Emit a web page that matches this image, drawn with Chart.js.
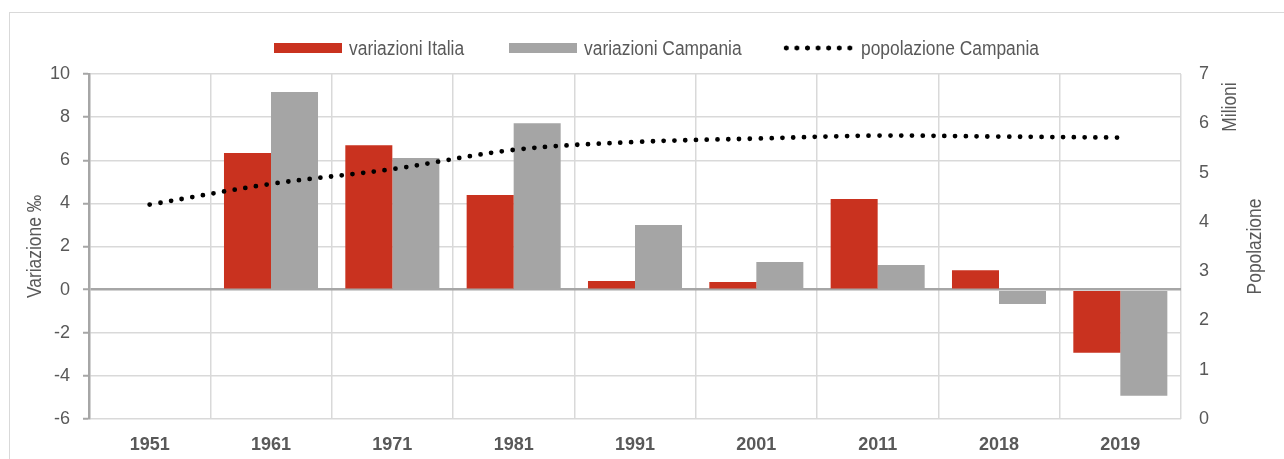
<!DOCTYPE html>
<html>
<head>
<meta charset="utf-8">
<script src="https://cdn.jsdelivr.net/npm/chart.js@4.4.1/dist/chart.umd.min.js"></script>
<style>
  html, body { margin: 0; padding: 0; background: #fff; overflow: hidden; }
  #wrap { position: relative; width: 1284px; height: 459px; }
  #frame { position: absolute; left: 9px; top: 12px; width: 1400px; height: 600px; border: 1px solid #D9D9D9; box-sizing: border-box; }
  canvas { position: absolute; left: 0; top: 0; }
  .lg { position: absolute; font-family: 'Liberation Sans', Arial, sans-serif; font-size: 20px; color: #595959; line-height: 20px; top: 38px; white-space: nowrap; transform: scaleX(0.87); transform-origin: 0 50%; }
  .sw { position: absolute; top: 43px; height: 10px; width: 68px; }
  .dots { position: absolute; top: 45px; height: 6px; width: 76px;
    background-image: radial-gradient(circle, #000 2.2px, rgba(0,0,0,0) 2.8px);
    background-size: 10.6px 6px; background-repeat: repeat-x; }
</style>
</head>
<body>
<div id="wrap">
  <div id="frame"></div>
  <canvas id="c" width="1284" height="459"></canvas>
  <div class="sw" style="left:274px;background:#C9321F"></div>
  <div class="lg" style="left:349px">variazioni Italia</div>
  <div class="sw" style="left:509px;background:#A5A5A5"></div>
  <div class="lg" style="left:584px">variazioni Campania</div>
  <div class="dots" style="left:781px"></div>
  <div class="lg" style="left:861px">popolazione Campania</div>
</div>
<script>
const categories = ['1951', '1961', '1971', '1981', '1991', '2001', '2011', '2018', '2019'];
const variazioniItalia = [null, 6.34, 6.7, 4.39, 0.4, 0.35, 4.2, 0.9, -2.93];
const variazioniCampania = [null, 9.16, 6.1, 7.72, 3.0, 1.28, 1.14, -0.67, -4.92];
const popolazioneCampania = [4.35, 4.77, 5.07, 5.46, 5.62, 5.69, 5.75, 5.73, 5.71];
const leftTitle = 'Variazione ‰';
const rightTitleTop = 'Milioni';
const rightTitle = 'Popolazione';

const FONT = "'Liberation Sans', Arial, sans-serif";
const TXT = '#595959';

const titlesPlugin = {
  id: 'titles',
  afterDraw(chart) {
    const ctx = chart.ctx;
    ctx.save();
    ctx.fillStyle = TXT;
    ctx.font = '20px ' + FONT;
    ctx.textAlign = 'center';
    ctx.textBaseline = 'middle';
    const draw = (t, x, y) => {
      ctx.save();
      ctx.translate(x, y);
      ctx.rotate(-Math.PI / 2);
      ctx.scale(0.87, 1);
      ctx.fillText(t, 0, 0);
      ctx.restore();
    };
    const mid = (chart.chartArea.top + chart.chartArea.bottom) / 2;
    draw(leftTitle, 35, mid);
    draw(rightTitleTop, 1230, 107);
    draw(rightTitle, 1255, mid);
    ctx.restore();
  }
};

new Chart(document.getElementById('c'), {
  data: {
    labels: categories,
    datasets: [
      {
        type: 'line', label: 'popolazione Campania', data: popolazioneCampania,
        yAxisID: 'y1', order: 0,
        borderColor: '#000', borderWidth: 4.8, borderDash: [0, 10.8], borderCapStyle: 'round',
        pointRadius: 0, tension: 0.35, fill: false
      },
      {
        type: 'bar', label: 'variazioni Italia', data: variazioniItalia,
        yAxisID: 'y', order: 1, backgroundColor: '#C9321F',
        categoryPercentage: 0.775, barPercentage: 1
      },
      {
        type: 'bar', label: 'variazioni Campania', data: variazioniCampania,
        yAxisID: 'y', order: 2, backgroundColor: '#A5A5A5',
        categoryPercentage: 0.775, barPercentage: 1
      }
    ]
  },
  options: {
    responsive: false,
    animation: false,
    layout: { padding: { top: 74, left: 0, right: 0, bottom: 0 } },
    plugins: { legend: { display: false }, tooltip: { enabled: false } },
    scales: {
      x: {
        offset: true,
        grid: { offset: true, color: '#D9D9D9', lineWidth: 1.5, drawTicks: false },
        border: { display: false },
        ticks: { color: TXT, font: { family: FONT, size: 18, weight: 'bold' }, padding: 15 },
        afterFit(s) { s.height = 40; }
      },
      y: {
        position: 'left', min: -6, max: 10,
        ticks: { stepSize: 2, color: TXT, font: { family: FONT, size: 18 }, padding: 13 },
        grid: {
          color: (c) => c.tick && c.tick.value === 0 ? '#A6A6A6' : '#D9D9D9',
          lineWidth: (c) => c.tick && c.tick.value === 0 ? 2.5 : 1.5,
          tickColor: '#A6A6A6', tickLength: 6, tickWidth: 2, z: 0
        },
        border: { display: true, color: '#A6A6A6', width: 2.5 },
        afterFit(s) { s.width = 89; }
      },
      y1: {
        position: 'right', min: 0, max: 7,
        ticks: { stepSize: 1, color: TXT, font: { family: FONT, size: 18 }, padding: 18 },
        grid: { display: false, drawTicks: false },
        border: { display: false },
        afterFit(s) { s.width = 103; }
      }
    }
  },
  plugins: [titlesPlugin]
});
</script>
</body>
</html>
